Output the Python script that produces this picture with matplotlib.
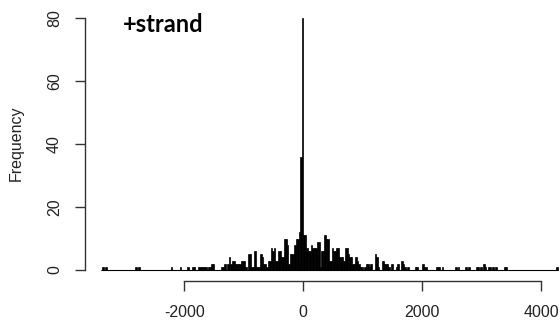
import numpy as np
import matplotlib
matplotlib.use("Agg")
import matplotlib.pyplot as plt

# histogram of distances, bin width 25, first break at -3400
bin_width = 25
first_break = -3400
counts = [
    0, 1, 0, 1, 0, 0, 0, 0, 0, 0, 0, 0, 0, 0, 0, 0, 0, 0, 0, 0, 0, 0, 0, 1, 0,
    1, 0, 0, 0, 0, 0, 0, 0, 0, 0, 0, 0, 0, 0, 0, 0, 0, 0, 0, 0, 0, 0, 1, 0, 0,
    0, 0, 0, 1, 0, 0, 0, 0, 1, 0, 0, 1, 1, 0, 0, 1, 1, 1, 1, 1, 1, 0, 1, 1, 2,
    2, 0, 0, 0, 0, 0, 1, 1, 2, 0, 2, 4, 2, 3, 3, 2, 2, 2, 2, 3, 3, 3, 1, 0, 5,
    5, 1, 1, 6, 1, 1, 1, 5, 4, 2, 2, 1, 3, 3, 7, 6, 7, 3, 3, 6, 6, 4, 4, 10, 10,
    8, 2, 5, 5, 5, 8, 10, 10, 12, 36, 80, 11, 11, 7, 6, 6, 8, 7, 7, 7, 9, 9, 1, 6, 6,
    11, 10, 10, 3, 3, 7, 6, 6, 7, 7, 4, 4, 4, 3, 7, 7, 5, 4, 4, 2, 2, 4, 3, 2, 1,
    1, 0, 1, 2, 2, 1, 2, 0, 0, 5, 4, 1, 0, 0, 3, 2, 2, 2, 1, 0, 2, 0, 0, 1, 2,
    0, 0, 3, 2, 1, 0, 1, 0, 0, 0, 0, 1, 1, 0, 0, 0, 2, 1, 1, 0, 0, 0, 0, 0, 0,
    1, 1, 1, 0, 1, 0, 0, 0, 0, 0, 0, 0, 0, 1, 0, 1, 0, 0, 0, 0, 1, 0, 1, 0, 0,
    0, 0, 1, 1, 0, 1, 0, 2, 1, 0, 1, 1, 0, 1, 0, 1, 0, 0, 0, 0, 0, 1, 1, 0, 0,
    0, 0, 0, 0, 0, 0, 0, 0, 0, 0, 0, 0, 0, 0, 0, 0, 0, 0, 0, 0, 0, 0, 0, 0, 0,
    0, 0, 0, 0, 0, 0, 1,
]
x_ticks = [-2000, 0, 2000, 4000]
y_ticks = [0, 20, 40, 60, 80]
title = "+strand"

edges = first_break + bin_width * np.arange(len(counts) + 1)

plt.rcParams['font.family'] = ['Liberation Sans', 'DejaVu Sans']
fig = plt.figure(figsize=(5.6, 3.28), dpi=100)
# axes box: y axis line at x=85px, x axis line at y=281px
ax = fig.add_axes([85 / 560, 1 - 281 / 328, 475 / 560, 263 / 328])

ax.bar(edges[:-1], counts, width=bin_width, align='edge', color='black',
       edgecolor='black', linewidth=0.5, clip_on=False)
ax.hlines(0, edges[0], edges[-1], color='black', linewidth=0.8)

ax.set_xlim((85 - 303.3) / 0.0595, (560 - 303.3) / 0.0595)
ax.set_ylim(-11 / 3.15, 80)

axis_col = '#333333'
for s in ['top', 'right']:
    ax.spines[s].set_visible(False)
ax.spines['left'].set_bounds(y_ticks[0], y_ticks[-1])
ax.spines['bottom'].set_bounds(x_ticks[0], x_ticks[-1])
for s in ['left', 'bottom']:
    ax.spines[s].set_color(axis_col)
    ax.spines[s].set_linewidth(1.0)

ax.set_xticks(x_ticks)
ax.set_xticklabels([str(t) for t in x_ticks])
ax.set_yticks(y_ticks)
ax.set_yticklabels([str(t) for t in y_ticks], rotation=90, va='center')
ax.tick_params(axis='both', length=7.5, width=1.0, color=axis_col,
               labelsize=11.5, labelcolor='#222222')
ax.tick_params(axis='x', pad=10)
ax.tick_params(axis='y', pad=9)

fig.text(16 / 560, 1 - 143 / 328, 'Frequency', rotation=90, ha='center',
         va='center', fontsize=11.5, color='#222222')
fig.text(123 / 560, 1 - 25 / 328, title, ha='left', va='center',
         fontsize=17, fontweight='bold', family=['Lato', 'DejaVu Sans'])

fig.savefig('out.png', dpi=100)
